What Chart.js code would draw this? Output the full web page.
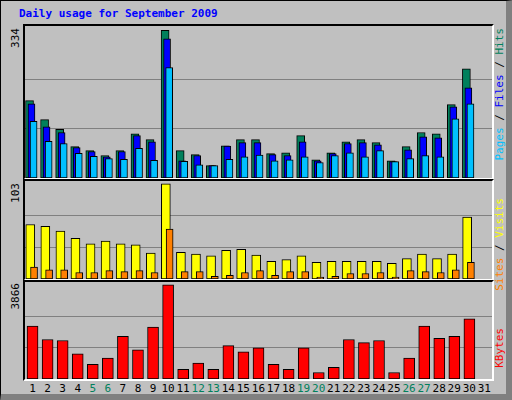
<!DOCTYPE html>
<html><head><meta charset="utf-8">
<script src="https://cdn.jsdelivr.net/npm/chart.js@4"></script>
<style>
body{margin:0;width:512px;height:400px;overflow:hidden;background:#fff;font-family:"DejaVu Sans Mono",monospace;}
#frame{position:absolute;left:0;top:0;width:505px;height:393px;background:#c0c0c0;border:1px solid #000;border-right:7px solid #808080;border-bottom:7px solid #808080;box-sizing:content-box;}
.panel{position:absolute;left:23px;width:467px;border:2px solid #000;border-right-color:#fff;border-bottom-color:#fff;background:#c0c0c0;}
.panel canvas{display:block;}
.v{position:absolute;writing-mode:vertical-rl;transform:rotate(180deg);font-size:11px;white-space:nowrap;}
#title{position:absolute;left:19px;top:7px;font-size:11px;font-weight:bold;color:#0000ff;}
.xl{position:absolute;top:382px;font-size:11px;width:16px;text-align:center;}
</style></head><body>
<div id="frame"></div>
<div id="title">Daily usage for September 2009</div>
<div class="panel" id="p1" style="top:24px;height:152px"><canvas id="c1"></canvas></div>
<div class="panel" id="p2" style="top:179px;height:98px"><canvas id="c2"></canvas></div>
<div class="panel" id="p3" style="top:280px;height:97px"><canvas id="c3"></canvas></div>
<div class="v" style="left:9px;top:28px;">334</div>
<div class="v" style="left:9px;top:183px;">103</div>
<div class="v" style="left:9px;top:283px;">3866</div>
<div class="v" style="left:493px;top:28px;"><span style="color:#00c0ff">Pages</span> / <span style="color:#0000ff">Files</span> / <span style="color:#00805c">Hits</span></div>
<div class="v" style="left:493px;top:198px;"><span style="color:#ff8000">Sites</span> / <span style="color:#ffff00">Visits</span></div>
<div class="v" style="left:493px;top:328px;"><span style="color:#ff0000">KBytes</span></div>
<div id="xlabels"></div>
<script>
const days = Array.from({length:31},(_,i)=>i+1);
const weekend = [5,6,12,13,19,20,26,27];
const hits   = [175,132,110,71,62,51,62,100,87,334,62,53,28,73,87,87,55,57,96,41,57,82,87,80,39,71,103,100,166,247,0];
const files  = [168,116,103,69,60,48,60,96,82,315,39,51,28,72,80,80,53,51,82,39,55,78,80,75,37,64,93,91,161,204,0];
const pages  = [128,83,78,56,49,44,42,67,40,250,38,30,28,42,48,52,39,41,48,35,51,57,48,62,37,44,51,48,134,168,0];
const visits = [59,57,52,44,38,41,38,37,28,103,29,27,25,31,32,26,19,21,25,18,19,19,19,19,17,22,27,22,27,67,0];
const sites  = [13,10,10,7,7,9,8,9,7,54,8,8,3,4,7,9,4,8,8,2,3,6,6,7,2,9,8,7,10,18,0];
const kbytes = [2173,1623,1580,1030,607,861,1750,1199,2130,3866,395,649,395,1369,1115,1284,607,395,1284,268,480,1623,1496,1580,268,861,2173,1665,1750,2469,0];

const xl=document.getElementById('xlabels');
days.forEach(d=>{const e=document.createElement('div');e.className='xl';e.textContent=d;
 e.style.left=(25+(d-0.5)*15.06-8)+'px';e.style.color=weekend.includes(d)?'#00805c':'#000';xl.appendChild(e);});

function ds(vals,off,color,w,ord){return {data:vals.map((v,i)=>({x:days[i]+off,y:v})),backgroundColor:color,borderColor:'#000',borderWidth:1,barThickness:w,borderSkipped:false,grouped:false,order:ord};}
function make(id,h,sets,max){
 const c=document.getElementById(id);c.width=467;c.height=h;
 new Chart(c,{type:'bar',data:{datasets:sets},options:{responsive:false,animation:false,events:[],
  layout:{padding:0},plugins:{legend:{display:false},tooltip:{enabled:false}},
  scales:{x:{type:'linear',min:0.5,max:31.5,offset:false,display:false},
   y:{min:0,max:max*1.03,afterBuildTicks:s=>{s.ticks=[{value:max/3},{value:2*max/3}];},
      ticks:{display:false},border:{display:false},grid:{color:'#808080',lineWidth:1,drawTicks:false}}}}});
}
make('c1',152,[ds(hits,-0.2,'#00805c',8,3),ds(files,-0.07,'#0000ff',7,2),ds(pages,0.07,'#00c0ff',7,1)],334);
make('c2',98,[ds(visits,-0.15,'#ffff00',9,2),ds(sites,0.1,'#ff8000',7,1)],103);
make('c3',97,[ds(kbytes,0,'#ff0000',11,1)],3866);
</script></body></html>
